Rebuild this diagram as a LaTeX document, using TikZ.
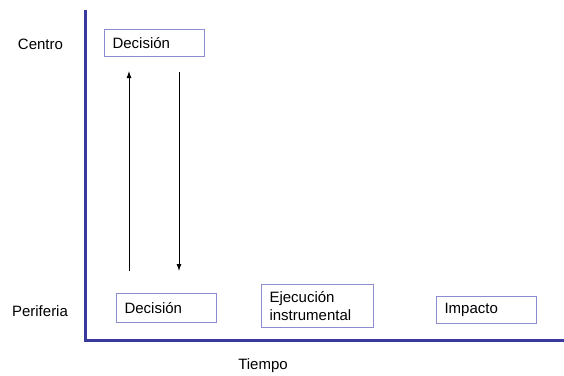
\documentclass[tikz,border=0pt]{standalone}
\usepackage{fontspec}
\setmainfont{Liberation Sans}
\usetikzlibrary{arrows.meta,positioning}
\definecolor{axisblue}{RGB}{58,58,158}
\definecolor{boxline}{RGB}{140,140,210}
\tikzset{
	stage/.style={
		rectangle,
		draw=boxline, line width=1pt,
		anchor=north west,
		align=left,
		inner xsep=8pt, inner ysep=0pt,
		minimum height=27pt,
		font=\fontsize{15}{18}\selectfont,
	},
	tag/.style={
		anchor=base,
		inner sep=0pt,
		font=\fontsize{15}{18}\selectfont,
	},
}

\begin{document}
\begin{tikzpicture}[x=1pt, y=-1pt]
\useasboundingbox (0,0) rectangle (564,375);
\coordinate	(top)	at (85,10);
\coordinate	(origin)	at (85,340);
\coordinate	(right)	at (564,340);
\coordinate	(up0)	at (129,271);
\coordinate	(up1)	at (129,71);
\coordinate	(down0)	at (179,72);
\coordinate	(down1)	at (179,271);

\node	(centro)	[tag]	at (40.5,49)	{Centro};
\node	(periferia)	[tag]	at (40,316)	{Periferia};
\node	(tiempo)	[tag]	at (263,369)	{Tiempo};

\node	(decisionC)	[stage, text width=84pt, minimum height=27pt]	at (104,29)	{Decisión};
\node	(decisionP)	[stage, text width=84pt, minimum height=29pt]	at (116,293)	{Decisión};
\node	(ejecucion)	[stage, text width=96pt, minimum height=43pt]	at (261,284)	{Ejecución\\instrumental};
\node	(impacto)	[stage, text width=84pt, minimum height=27pt]	at (436,296)	{Impacto};

\draw[axisblue, line width=3pt] (top) -- (origin) -- (right);

\path[line width=0.9pt, -{Latex[length=7pt,width=5pt]}] (up0) edge (up1);
\path[line width=0.9pt, -{Latex[length=7pt,width=5pt]}] (down0) edge (down1);

\end{tikzpicture}
\end{document}
